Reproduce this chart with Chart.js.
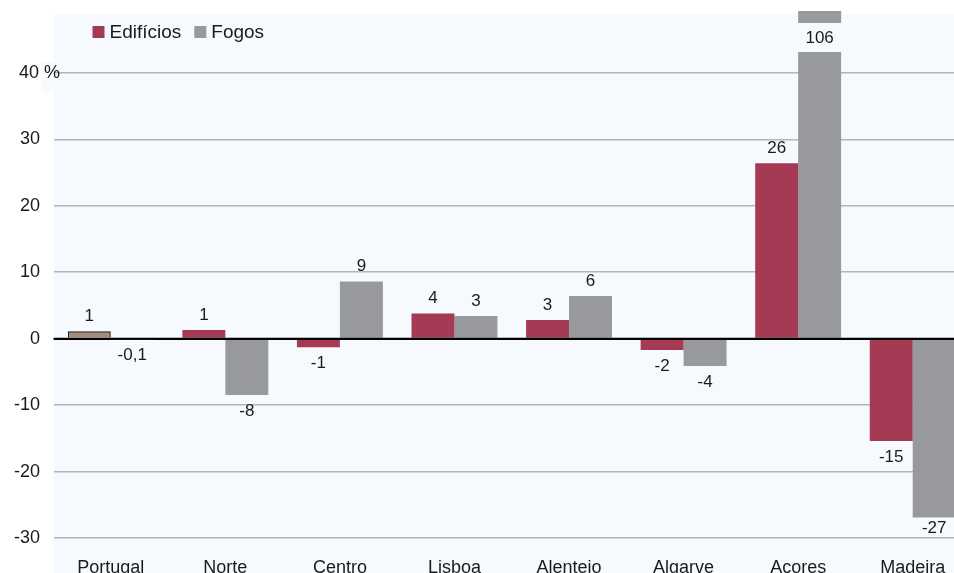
<!DOCTYPE html>
<html>
<head>
<meta charset="utf-8">
<script src="https://cdn.jsdelivr.net/npm/chart.js@4/dist/chart.umd.min.js"></script>
<style>
  body { margin: 0; overflow: hidden; background: #fff; }
</style>
</head>
<body>
<canvas id="chart" width="970" height="600"></canvas>
<script>
const categories = ['Portugal', 'Norte', 'Centro', 'Lisboa', 'Alentejo', 'Algarve', 'Açores', 'Madeira'];
const edificios = [1.1, 1.3, -1.3, 3.8, 2.8, -1.7, 26.4, -15.4];
const fogos = [-0.1, -8.5, 8.6, 3.4, 6.4, -4.1, 106, -26.9];
const yTicks = [-30, -20, -10, 0, 10, 20, 30, 40];

const edifColor = '#a53a55';
const portugalColor = '#a48c78';
const fogosColor = '#98999d';
const plotBg = '#f6f9fd';

Chart.defaults.font.family = '"Liberation Sans", Arial, sans-serif';
Chart.defaults.font.size = 18;
Chart.defaults.color = '#1a1a1a';

function fmt(v) {
    if (Math.abs(v) < 0.5) return v.toFixed(1).replace('.', ',');
    return String(Math.round(v));
}

// light plot background
const bgPlugin = {
    id: 'bg',
    beforeDraw(chart) {
        const { ctx, chartArea } = chart;
        ctx.save();
        ctx.fillStyle = '#fff';
        ctx.fillRect(0, 0, chart.width, chart.height);
        ctx.fillStyle = plotBg;
        ctx.fillRect(chartArea.left, chartArea.top + 3, chartArea.right - chartArea.left, chart.height - chartArea.top);
        // small box behind the "40 %" label
        const y40 = chart.scales.y.getPixelForValue(40);
        ctx.fillRect(chartArea.left - 12, y40 - 11, 12, 30);
        ctx.restore();
    }
};

// zero line on top of bars, value labels, legend
const labelPlugin = {
    id: 'labels',
    afterDatasetsDraw(chart) {
        const { ctx, chartArea, scales } = chart;
        const y0 = scales.y.getPixelForValue(0);
        ctx.save();
        ctx.strokeStyle = '#000';
        ctx.lineWidth = 2;
        ctx.beginPath();
        ctx.moveTo(chartArea.left, y0);
        ctx.lineTo(chartArea.right, y0);
        ctx.stroke();

        ctx.font = '17px "Liberation Sans", Arial, sans-serif';
        ctx.textAlign = 'center';
        ctx.textBaseline = 'middle';
        chart.data.datasets.forEach((ds, i) => {
            chart.getDatasetMeta(i).data.forEach((bar, j) => {
                const v = ds.data[j];
                let y;
                if (v > scales.y.max) {
                    // broken bar: gap with label
                    ctx.fillStyle = plotBg;
                    ctx.fillRect(bar.x - bar.width / 2 - 1, chartArea.top + 12, bar.width + 2, 29);
                    y = chartArea.top + 27;
                } else if (v >= 0) {
                    y = bar.y - 15;
                } else {
                    y = Math.min(bar.y + 16, chartArea.bottom - 10);
                }
                ctx.fillStyle = '#1a1a1a';
                ctx.fillText(fmt(v), bar.x, y);
            });
        });

        // legend
        ctx.font = '19px "Liberation Sans", Arial, sans-serif';
        ctx.textAlign = 'left';
        const items = [['Edifícios', edifColor], ['Fogos', fogosColor]];
        let x = chartArea.left + 39;
        const ly = chartArea.top + 21;
        items.forEach(([text, color]) => {
            ctx.fillStyle = color;
            ctx.fillRect(x, ly - 6, 12, 12);
            ctx.fillStyle = '#1a1a1a';
            ctx.fillText(text, x + 17, ly + 1);
            x += 17 + ctx.measureText(text).width + 13;
        });
        ctx.restore();
    }
};

const ctx = document.getElementById('chart').getContext('2d');
new Chart(ctx, {
    type: 'bar',
    data: {
        labels: categories,
        datasets: [{
            label: 'Edifícios',
            data: edificios,
            backgroundColor: edificios.map((v, i) => i === 0 ? portugalColor : edifColor),
            borderColor: '#222',
            borderWidth: edificios.map((v, i) => i === 0 ? 1.5 : 0),
            categoryPercentage: 0.75,
            barPercentage: 1.0
        }, {
            label: 'Fogos',
            data: fogos,
            backgroundColor: fogosColor,
            categoryPercentage: 0.75,
            barPercentage: 1.0
        }]
    },
    options: {
        responsive: false,
        devicePixelRatio: 1,
        animation: false,
        layout: { padding: { top: 11, left: 0, right: 0, bottom: 0 } },
        plugins: {
            legend: { display: false },
            tooltip: { enabled: false }
        },
        scales: {
            x: {
                grid: { display: false },
                border: { display: false },
                ticks: { padding: 11, maxRotation: 0 },
                afterFit: (scale) => { scale.height = 62; }
            },
            y: {
                min: -30,
                max: 49.3,
                afterBuildTicks: (scale) => { scale.ticks = yTicks.map(v => ({ value: v })); },
                afterFit: (scale) => {
                    scale.width = 53.5;
                    // let the "40 %" label run into the plot area
                    scale._computeLabelArea = () => undefined;
                },
                border: { display: false },
                grid: {
                    drawTicks: false,
                    color: (c) => c.tick && c.tick.value === 0 ? '#000' : '#b5b5b5',
                    lineWidth: (c) => c.tick && c.tick.value === 0 ? 2 : 1.5
                },
                ticks: {
                    padding: -6.5,
                    callback: (v) => v === 40 ? '40 %' : v + '    '
                }
            }
        }
    },
    plugins: [bgPlugin, labelPlugin]
});
</script>
</body>
</html>
